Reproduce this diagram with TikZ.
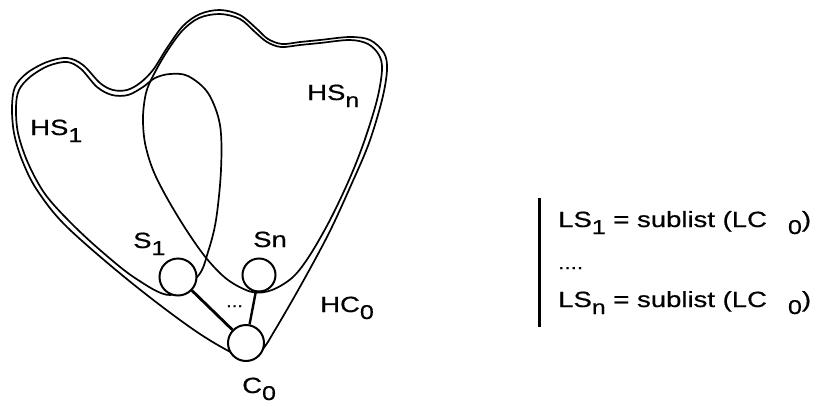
\documentclass[tikz,border=0pt]{standalone}
\usepackage{fontspec}
\setmainfont[FakeStretch=1.25, FakeBold=0.6]{Liberation Sans}
\newcommand\lsub[1]{\raisebox{-7pt}{\fontsize{20}{20}\selectfont #1}}
\begin{document}
\begin{tikzpicture}[x=1pt,y=-1pt,
  outline/.style={line width=1.7pt, line join=round},
  place/.style={circle, draw, fill=white, line width=2pt, inner sep=0pt},
  link/.style={line width=2.8pt},
  lbl/.style={anchor=base west, inner sep=0pt, font=\fontsize{22}{25}\selectfont}]
\useasboundingbox (0,0) rectangle (825,407);
% HC0
\draw[outline] plot[smooth cycle, tension=0.55] coordinates {
 (247,359) (200,334) (133,284) (67,227) (37,190) (22,160) (14,133) (12,107) (15,87)
 (27,73) (47,62) (67,58) (83,65) (100,83) (113,90) (127,90) (140,83) (153,70)
 (167,48) (183,26) (200,14) (220,10) (240,15) (257,29) (268,39) (282,44) (300,42)
 (320,40) (350,37) (370,40) (384,53) (387,70) (382,100) (369,143) (352,183)
 (329,233) (301,285) (275,330) (262,350)};
% HS1
\draw[outline] plot[smooth cycle, tension=0.55] coordinates {
 (170,295) (135,278) (100,250) (70,222) (45,194) (28,163) (18,133) (16,107) (19,90)
 (30,77) (48,66) (67,62) (81,69) (97,87) (112,95) (128,95) (143,87) (155,78)
 (170,74) (188,76) (208,93) (220,125) (221,170) (216,220) (208,252) (198,276)};
% HSn
\draw[outline] plot[smooth cycle, tension=0.55] coordinates {
 (252,292) (228,280) (207,259) (187,231) (167,198) (153,170) (145,143) (143,117)
 (146,93) (153,76) (166,53) (182,31) (199,18) (220,14) (240,19) (255,32) (267,42)
 (281,47) (300,45) (320,43) (350,40) (368,44) (379,55) (382,70) (377,100)
 (364,142) (349,180) (330,220) (310,255) (293,277) (272,290)};
% places
\node[place, minimum size=37pt] (s1) at (178,277) {};
\node[place, minimum size=33pt] (sn) at (259,275) {};
\node[place, minimum size=36pt] (c0) at (246,343) {};
\draw[link] (s1) -- (c0);
\draw[link, line width=2.4pt] (sn) -- (c0);
% labels
\node[lbl] (lhs1) at (30,135) {HS\lsub{1}};
\node[lbl] (lhsn) at (307,100) {HS\lsub{n}};
\node[lbl] (ls1) at (133,248) {S\lsub{1}};
\node[lbl] (lsn) at (253,247) {Sn};
\node[lbl] (lhc0) at (320,312) {HC\lsub{0}};
\node[lbl] (lc0) at (242,393) {C\lsub{0}};
\node[lbl, font=\fontsize{16}{16}\selectfont] (dots) at (226,307) {...};
% right text
\coordinate (bt) at (539.5,198);
\coordinate (bb) at (539.5,327);
\draw[line width=3pt] (bt) -- (bb);
\node[lbl] (t1) at (558,227) {LS\lsub{1} = sublist (LC\hspace{21pt}\lsub{0})};
\node[lbl, font=\fontsize{18}{18}\selectfont] (t2) at (558,269) {....};
\node[lbl] (t3) at (558,307) {LS\lsub{n} = sublist (LC\hspace{21pt}\lsub{0})};
\end{tikzpicture}
\end{document}
